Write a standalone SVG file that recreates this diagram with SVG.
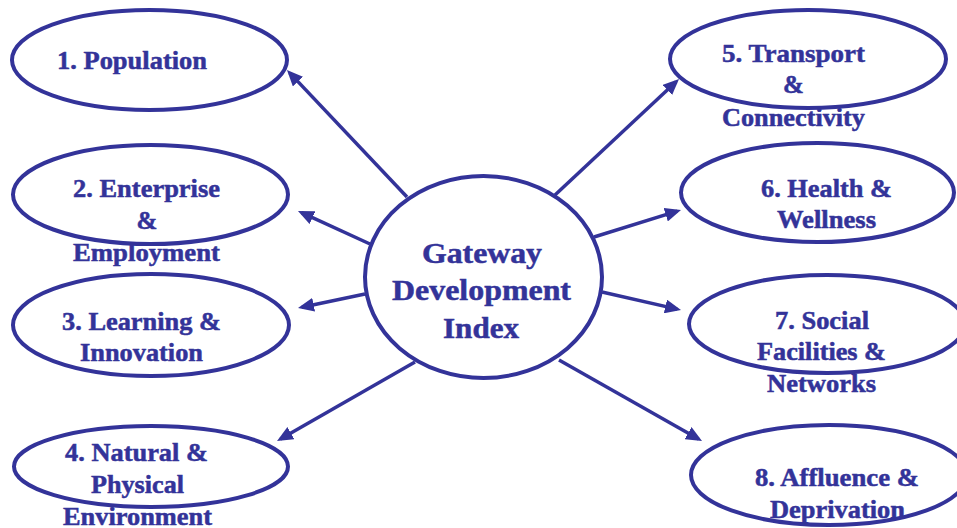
<svg xmlns="http://www.w3.org/2000/svg" width="957" height="528" viewBox="0 0 957 528">
<style>
.n{fill:#ffffff;stroke:#333399;stroke-width:4}
.t{font-family:"Liberation Serif","Times New Roman",serif;font-weight:bold;font-size:25px;fill:#333399;stroke:#333399;stroke-width:0.5;text-anchor:middle}
.c{font-size:29px}
.e{stroke:#333399;stroke-width:3.5;fill:none;marker-end:url(#ah)}
</style>
<defs>
<marker id="ah" viewBox="0 0 16 14" refX="12" refY="7" markerWidth="16" markerHeight="14" markerUnits="userSpaceOnUse" orient="auto">
<path d="M0,0 L16,7 L0,14 z" fill="#333399"/>
</marker>
</defs>
<rect width="957" height="528" fill="#ffffff"/>
<g id="connectors">
<line class="e" x1="407" y1="197" x2="289.7" y2="72.9"/>
<line class="e" x1="370" y1="244" x2="301.6" y2="212.7"/>
<line class="e" x1="365" y1="294" x2="301.9" y2="307.2"/>
<line class="e" x1="415" y1="362" x2="280.5" y2="439"/>
<line class="e" x1="555" y1="195" x2="676.1" y2="81.7"/>
<line class="e" x1="594" y1="237" x2="677.2" y2="211.2"/>
<line class="e" x1="602" y1="292" x2="677.1" y2="309.1"/>
<line class="e" x1="559" y1="360" x2="698.5" y2="439"/>
</g>
<g id="center">
<ellipse class="n" cx="483.5" cy="277" rx="118.5" ry="101"/>
<text class="t c" x="482" y="263" textLength="120" lengthAdjust="spacingAndGlyphs">Gateway</text>
<text class="t c" x="481.5" y="300" textLength="179" lengthAdjust="spacingAndGlyphs">Development</text>
<text class="t c" x="481" y="338" textLength="76" lengthAdjust="spacingAndGlyphs">Index</text>
</g>
<g id="node1">
<ellipse class="n" cx="149.5" cy="60" rx="137.5" ry="50"/>
<text class="t" x="132" y="69" textLength="150" lengthAdjust="spacingAndGlyphs">1. Population</text>
</g>
<g id="node2">
<ellipse class="n" cx="150.5" cy="194.5" rx="137.5" ry="49.5"/>
<text class="t" x="146.5" y="197" textLength="147" lengthAdjust="spacingAndGlyphs">2. Enterprise</text>
<text class="t" x="147" y="229">&amp;</text>
<text class="t" x="146.5" y="261" textLength="147" lengthAdjust="spacingAndGlyphs">Employment</text>
</g>
<g id="node3">
<ellipse class="n" cx="151" cy="325" rx="138" ry="51"/>
<text class="t" x="141.5" y="330" textLength="159" lengthAdjust="spacingAndGlyphs">3. Learning &amp;</text>
<text class="t" x="141.5" y="361" textLength="123" lengthAdjust="spacingAndGlyphs">Innovation</text>
</g>
<g id="node4">
<ellipse class="n" cx="151" cy="466.5" rx="137" ry="40.5"/>
<text class="t" x="136.5" y="461" textLength="143" lengthAdjust="spacingAndGlyphs">4. Natural &amp;</text>
<text class="t" x="137.5" y="493" textLength="93" lengthAdjust="spacingAndGlyphs">Physical</text>
<text class="t" x="137.5" y="525" textLength="149" lengthAdjust="spacingAndGlyphs">Environment</text>
</g>
<g id="node5">
<ellipse class="n" cx="808" cy="59" rx="138" ry="49"/>
<text class="t" x="793.5" y="62" textLength="143" lengthAdjust="spacingAndGlyphs">5. Transport</text>
<text class="t" x="793.5" y="93">&amp;</text>
<text class="t" x="793.5" y="126" textLength="143" lengthAdjust="spacingAndGlyphs">Connectivity</text>
</g>
<g id="node6">
<ellipse class="n" cx="817.5" cy="192.5" rx="136.5" ry="49.5"/>
<text class="t" x="826.5" y="197" textLength="131" lengthAdjust="spacingAndGlyphs">6. Health &amp;</text>
<text class="t" x="826.5" y="228" textLength="99" lengthAdjust="spacingAndGlyphs">Wellness</text>
</g>
<g id="node7">
<ellipse class="n" cx="827" cy="324" rx="138" ry="49"/>
<text class="t" x="822" y="329" textLength="94" lengthAdjust="spacingAndGlyphs">7. Social</text>
<text class="t" x="821.5" y="360" textLength="129" lengthAdjust="spacingAndGlyphs">Facilities &amp;</text>
<text class="t" x="821.5" y="392" textLength="109" lengthAdjust="spacingAndGlyphs">Networks</text>
</g>
<g id="node8">
<ellipse class="n" cx="829" cy="475" rx="138" ry="50"/>
<text class="t" x="837" y="486" textLength="164" lengthAdjust="spacingAndGlyphs">8. Affluence &amp;</text>
<text class="t" x="837.5" y="518" textLength="135" lengthAdjust="spacingAndGlyphs">Deprivation</text>
</g>
</svg>
